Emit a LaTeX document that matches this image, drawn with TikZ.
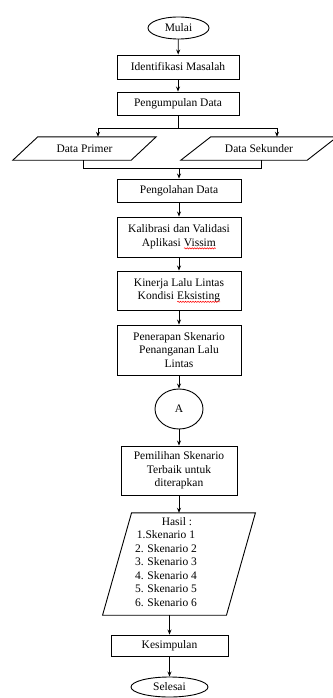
\documentclass[tikz,border=0pt]{standalone}
\usepackage{fontspec}
\setmainfont{Liberation Serif}
\usetikzlibrary{shapes.geometric,arrows.meta,decorations.pathmorphing}
\newcommand\spellerr[1]{\tikz[baseline=(sw.base)]{\node[inner sep=0pt, outer sep=0pt, minimum width=0pt, minimum height=0pt, shape=rectangle, draw=none, fill=none] (sw) {#1};
  \draw[red, line width=0.5pt, decorate, decoration={snake, amplitude=0.6pt, segment length=2.5pt}] ([yshift=-2pt]sw.base west) -- ([yshift=-2pt]sw.base east);}}
\newcommand\paradraw[2]{\draw[shp] ([xshift=#2]#1.north west) -- ([xshift=#2]#1.north east) -- ([xshift=-#2]#1.south east) -- ([xshift=-#2]#1.south west) -- cycle;}
\begin{document}
\begin{tikzpicture}[x=1pt,y=-1pt,
  every node/.style={font=\fontsize{11.5}{13.5}\selectfont, inner sep=0pt},
  shp/.style={draw, line width=0.9pt, align=center},
  procbox/.style={shp, rectangle},
  termin/.style={shp, ellipse},
  parabody/.style={rectangle, draw=none, align=center},
  conn/.style={line width=0.8pt},
  arr/.style={conn, -{Stealth[length=5pt,width=4pt]}}]
\useasboundingbox (0,0) rectangle (332,698);
\node[termin, minimum width=61pt, minimum height=22pt] (mulai) at (178.5,28) {Mulai};
\node[procbox, minimum width=122pt, minimum height=24pt] (ident) at (178,67) {Identifikasi Masalah};
\node[procbox, minimum width=122pt, minimum height=23pt] (kumpul) at (178,103.5) {Pengumpulan Data};
\node[parabody, minimum width=118pt, minimum height=23pt] (primer) at (84.5,148.5) {Data Primer};
\paradraw{primer}{12.5pt}
\node[parabody, minimum width=126pt, minimum height=23pt] (sekunder) at (259,148.5) {Data Sekunder};
\paradraw{sekunder}{15pt}
\node[procbox, minimum width=124pt, minimum height=23pt] (olah) at (179,190.5) {Pengolahan Data};
\node[procbox, minimum width=124pt, minimum height=40pt] (kalib) at (179,237) {Kalibrasi dan Validasi\\Aplikasi \spellerr{Vissim}};
\node[procbox, minimum width=124pt, minimum height=39pt] (kinerja) at (179,290.5) {Kinerja Lalu Lintas\\Kondisi \spellerr{Eksisting}};
\node[procbox, minimum width=124pt, minimum height=50pt] (terap) at (179,350) {Penerapan Skenario\\Penanganan Lalu\\Lintas};
\node[termin, minimum width=48pt, minimum height=40pt] (a) at (179,409) {A};
\node[procbox, minimum width=116pt, minimum height=49pt] (pilih) at (179,470.5) {Pemilihan Skenario\\Terbaik untuk\\diterapkan};
\node[parabody, minimum width=123.5pt, minimum height=102pt] (hasil) at (179,564) {};
\paradraw{hasil}{14.5pt}
\node[align=center] (hasiltxt) at (166,562) {\hspace*{22pt}Hasil :\\1.Skenario 1\\2. Skenario 2\\3. Skenario 3\\4. Skenario 4\\5. Skenario 5\\6. Skenario 6};
\node[procbox, minimum width=117pt, minimum height=21pt] (simpul) at (169.5,645.5) {Kesimpulan};
\node[termin, minimum width=77pt, minimum height=20pt] (selesai) at (169.5,687) {Selesai};
% connectors
\draw[arr] (mulai) -- (ident);
\draw[arr] (ident) -- (kumpul);
\coordinate (bm) at (178,128);
\coordinate (bl) at (98,128);
\coordinate (br) at (277,128);
\draw[conn] (kumpul.south) -- (bm);
\draw[conn] (bl) -- (br);
\draw[arr] (bl) -- (bl |- primer.north);
\draw[arr] (br) -- (br |- sekunder.north);
\coordinate (ml) at (83,168);
\coordinate (mr) at (261,168);
\coordinate (mm) at (179,168);
\draw[conn] (ml |- primer.south) -- (ml) -- (mr) -- (mr |- sekunder.south);
\draw[arr] (mm) -- (olah);
\draw[arr] (olah) -- (kalib);
\draw[arr] (kalib) -- (kinerja);
\draw[arr] (kinerja) -- (terap);
\draw[arr] (terap) -- (a);
\draw[arr] (a) -- (pilih);
\draw[arr] (pilih) -- (hasil);
\coordinate (hb) at (169.5,615);
\draw[arr] (hb |- hasil.south) -- (hb |- simpul.north);
\draw[arr] (simpul) -- (selesai);
\end{tikzpicture}
\end{document}
